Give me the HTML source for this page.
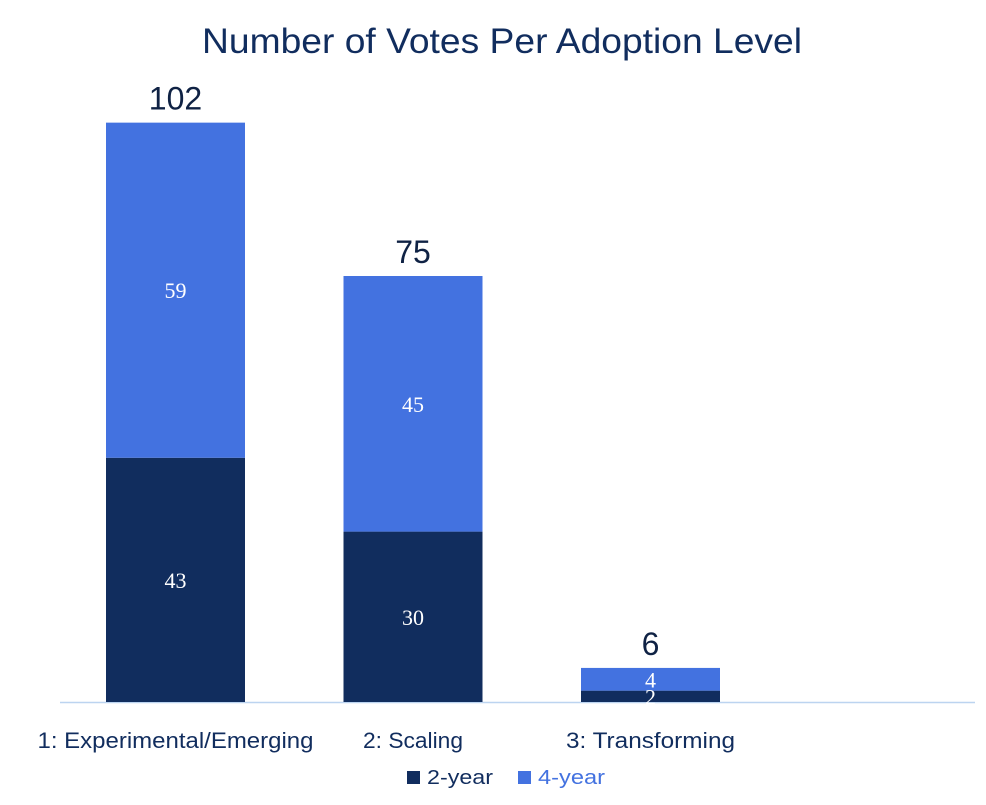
<!DOCTYPE html>
<html><head><meta charset="utf-8"><style>
body{margin:0;background:#fff;}
svg text{font-family:"Liberation Sans",sans-serif;}
svg text.serif{font-family:"Liberation Serif",serif;}
</style></head><body>
<svg id="chart" width="986" height="800" viewBox="0 0 986 800" xmlns="http://www.w3.org/2000/svg">
<text x="502" y="53" text-anchor="middle" font-size="35" fill="#112d5e" textLength="600" lengthAdjust="spacingAndGlyphs">Number of Votes Per Adoption Level</text>
<line x1="60" y1="702.5" x2="975" y2="702.5" stroke="#bcd4f0" stroke-width="1.5"/>
<g id="bars"></g>
<g>
<rect x="407" y="771" width="13" height="13" fill="#112d5e"/>
<text x="427" y="784" font-size="20" fill="#112d5e" textLength="66" lengthAdjust="spacingAndGlyphs">2-year</text>
<rect x="518" y="771" width="13" height="13" fill="#4372e0"/>
<text x="538" y="784" font-size="20" fill="#4372e0" textLength="67" lengthAdjust="spacingAndGlyphs">4-year</text>
</g>
</svg>
<script>
const categories = ["1: Experimental/Emerging", "2: Scaling", "3: Transforming"];
const twoYear = [43, 30, 2];
const fourYear = [59, 45, 4];
const labelWidths = [276, 100, 169];
const NS = "http://www.w3.org/2000/svg";
const baseY = 702, pxPerUnit = 5.68, firstCenter = 175.5, step = 237.5, barW = 139;
function yScale(v){ return baseY - v * pxPerUnit; }
function xCenter(i){ return firstCenter + i * step; }
const g = document.getElementById("bars");
function mk(tag, attrs){ const e = document.createElementNS(NS, tag); for (const k in attrs) e.setAttribute(k, attrs[k]); g.appendChild(e); return e; }
categories.forEach((c, i) => {
  const cx = xCenter(i), x = cx - barW/2;
  const a = twoYear[i], b = fourYear[i], t = a + b;
  const r1 = mk("rect", {x: x, y: yScale(a), width: barW, height: baseY - yScale(a), fill: "#112d5e"});
  
  
  const r2 = mk("rect", {x: x, y: yScale(t), width: barW, height: yScale(a) - yScale(t), fill: "#4372e0"});
  
  
  const l1 = mk("text", {x: cx, y: (yScale(a) + baseY)/2 + 8, "text-anchor": "middle", "font-size": "22", fill: "#fff", "class": "serif"});
  l1.textContent = a;
  
  
  const l2 = mk("text", {x: cx, y: (yScale(t) + yScale(a))/2 + 8, "text-anchor": "middle", "font-size": "22", fill: "#fff", "class": "serif"});
  l2.textContent = b;
  
  
  const tl = mk("text", {x: cx, y: yScale(t) - 13, "text-anchor": "middle", "font-size": "32", fill: "#0f2244"});
  tl.textContent = t;
  
  
  const cl = mk("text", {x: cx, y: 748, "text-anchor": "middle", "font-size": "22", fill: "#112d5e", textLength: labelWidths[i], lengthAdjust: "spacingAndGlyphs"});
  cl.textContent = c;
  
  
});
</script>
</body></html>
